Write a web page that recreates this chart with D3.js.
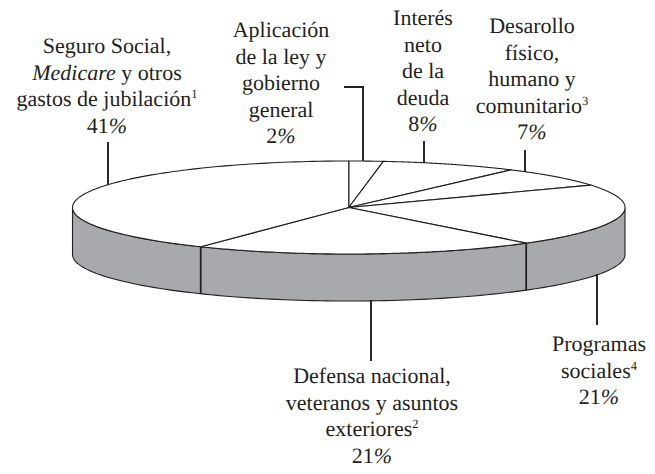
<!DOCTYPE html>
<html><head><meta charset="utf-8">
<script src="https://cdn.jsdelivr.net/npm/d3@7"></script>
<style>html,body{margin:0;padding:0;background:#fff}svg{display:block}text{font-family:"Liberation Serif",serif;font-size:22px;fill:#231f20;text-anchor:middle;text-rendering:geometricPrecision}</style>
</head><body><svg id="c" width="655" height="474"></svg>
<script>
const categories = ["Aplicación","Interés","Desarrollo","Programas","Defensa","Seguro"];
const shares = [2, 8, 7, 21.9, 20.1, 41];
const printedPercent = ["2","8","7","21","21","41"];
// each label line: array of [text, style] runs
const labelLines = [
  [[["Aplicación"]],[["de la ley y"]],[["gobierno"]],[["general"]]],
  [[["Interés"]],[["neto"]],[["de la"]],[["deuda"]]],
  [[["Desarollo"]],[["físico,"]],[["humano y"]],[["comunitario"],["3","sup"]]],
  [[["Programas"]],[["sociales"],["4","sup"]]],
  [[["Defensa nacional,"]],[["veteranos y asuntos"]],[["exteriores"],["2","sup"]]],
  [[["Seguro Social,"]],[["Medicare","it"],[" y otros"]],[["gastos de jubilación"],["1","sup"]]]
];
const labelX = [281, 423, 532, 599, 372, 107];
const labelY = [37, 25, 33, 351, 383, 53];
const lineStep = 26.6;
const leaders = [
  [[344,87],[363,87],[363,161]],
  [[424,141],[424,163]],
  [[525,150],[525,172]],
  [[597,274],[597,325]],
  [[371,300],[371,361]],
  [[108,142],[108,185]]
];

const ink = "#231f20", wallFill = "#a7a9ac";
const svg = d3.select("#c");
const x = d3.scaleLinear().domain([-1,1]).range([72.5,625]);
const y = d3.scaleLinear().domain([-1,1]).range([161,254]);
const depth = 47;
const pt = a => [x(Math.sin(a)), y(-Math.cos(a))];
const arcs = d3.pie().sort(null)(shares);
const line = d3.line();
const arcPts = (a0,a1) => d3.range(0,121).map(i => pt(a0+(a1-a0)*i/120));

// side wall: front half of the ellipse, extruded
const front = arcPts(Math.PI/2, 3*Math.PI/2);
const wall = front.concat(front.slice().reverse().map(p => [p[0], p[1]+depth]));
svg.append("path").attr("d", line(wall)+"Z").attr("fill", wallFill).attr("stroke", ink).attr("stroke-width", 1.1);

// wall dividers at slice boundaries on the front
[arcs[3].endAngle, arcs[4].endAngle].forEach(a => {
  const p = pt(a);
  svg.append("line").attr("x1",p[0]).attr("y1",p[1]).attr("x2",p[0]).attr("y2",p[1]+depth)
    .attr("stroke", ink).attr("stroke-width", 1.8);
});

// top face slices
const c = [x(0), y(0)];
svg.selectAll("path.slice").data(arcs).join("path").attr("class","slice")
  .attr("d", d => line([c, ...arcPts(d.startAngle, d.endAngle)])+"Z")
  .attr("fill","#fff").attr("stroke",ink).attr("stroke-width",1.1).attr("stroke-linejoin","round");

// leaders
svg.selectAll("path.lead").data(leaders).join("path").attr("class","lead")
  .attr("d", d => line(d)).attr("fill","none").attr("stroke",ink).attr("stroke-width",1.9);

// labels
categories.forEach((_, i) => {
  const lines = labelLines[i];
  lines.forEach((runs, j) => {
    const t = svg.append("text").attr("x", labelX[i]).attr("y", labelY[i] + j*lineStep);
    runs.forEach(r => {
      const s = t.append("tspan").text(r[0]);
      if (r[1]==="it") s.attr("font-style","italic");
      if (r[1]==="sup") s.attr("font-size",12.5).attr("dy",-8);
    });
  });
  const p = svg.append("text").attr("x", labelX[i]).attr("y", labelY[i] + lines.length*lineStep);
  p.append("tspan").text(printedPercent[i]);
  p.append("tspan").attr("font-style","italic").text("%");
});
</script></body></html>
